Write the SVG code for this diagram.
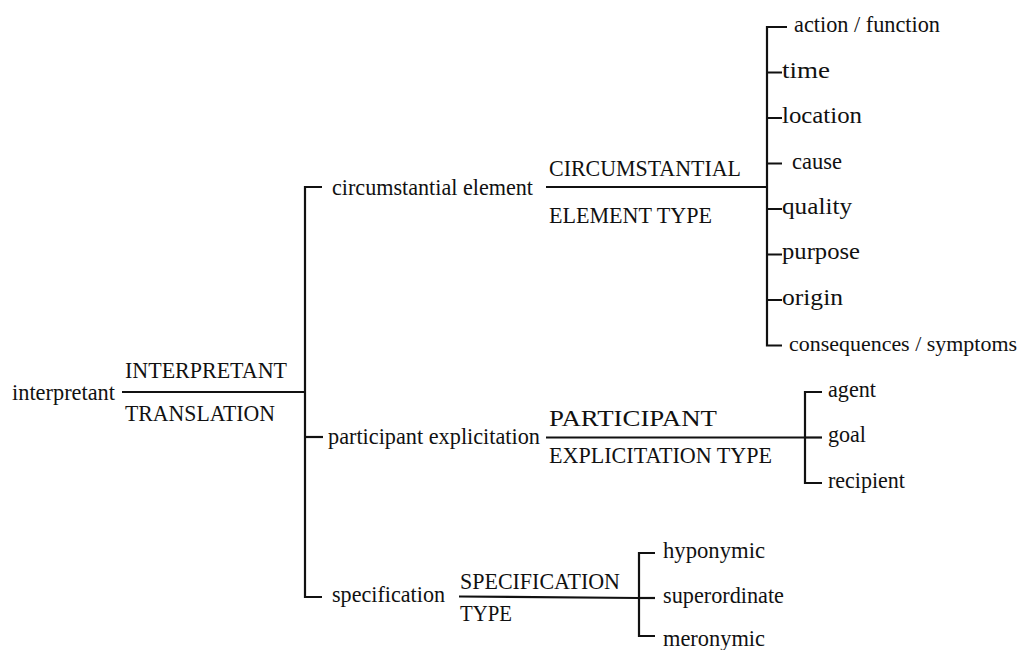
<svg xmlns="http://www.w3.org/2000/svg" width="1022" height="650" viewBox="0 0 1022 650">
<style>
text{font-family:'Liberation Serif','Times New Roman',Tinos,'DejaVu Serif',serif;font-size:23.5px;fill:#111}
.c{stroke:#111;stroke-width:2.2;fill:none}
</style>
<rect width="1022" height="650" fill="#fff"/>
<g id="connectors">
<path class="c" d="M122 392H305"/>
<path class="c" d="M322 187H305V597H322"/>
<path class="c" d="M305 437H323"/>
<path class="c" d="M546 187H767"/>
<path class="c" d="M787 27H767V345.5H782"/>
<path class="c" d="M767 72.5H782M767 118H782M767 163.5H782M767 209H782M767 254.5H782M767 300H782"/>
<path class="c" d="M546 437.5H805"/>
<path class="c" d="M822 392H805V483H822"/>
<path class="c" d="M805 437.5H822"/>
<path class="c" d="M459 596.5L639 598"/>
<path class="c" d="M655 553H639V636H655"/>
<path class="c" d="M639 598H655"/>
</g>
<g id="interpretant"><text x="12" y="400" textLength="103" lengthAdjust="spacingAndGlyphs">interpretant</text></g>
<g id="system-translation">
<text x="125" y="378" textLength="162" lengthAdjust="spacingAndGlyphs">INTERPRETANT</text>
<text x="125" y="421" textLength="150" lengthAdjust="spacingAndGlyphs">TRANSLATION</text>
</g>
<g id="circumstantial-element"><text x="332" y="195" textLength="201" lengthAdjust="spacingAndGlyphs">circumstantial element</text></g>
<g id="system-circ">
<text x="549" y="176" textLength="192" lengthAdjust="spacingAndGlyphs">CIRCUMSTANTIAL</text>
<text x="549" y="223" textLength="163" lengthAdjust="spacingAndGlyphs">ELEMENT TYPE</text>
</g>
<g id="participant-explicitation"><text x="328" y="444" textLength="212" lengthAdjust="spacingAndGlyphs">participant explicitation</text></g>
<g id="system-part">
<text x="549" y="426" textLength="168" lengthAdjust="spacingAndGlyphs">PARTICIPANT</text>
<text x="549" y="463" textLength="223" lengthAdjust="spacingAndGlyphs">EXPLICITATION TYPE</text>
</g>
<g id="specification"><text x="332" y="602" textLength="113" lengthAdjust="spacingAndGlyphs">specification</text></g>
<g id="system-spec">
<text x="460" y="589" textLength="160" lengthAdjust="spacingAndGlyphs">SPECIFICATION</text>
<text x="460" y="621" textLength="52" lengthAdjust="spacingAndGlyphs">TYPE</text>
</g>
<g id="action-function"><text x="794" y="32" textLength="146" lengthAdjust="spacingAndGlyphs">action / function</text></g>
<g id="time"><text x="782" y="78" textLength="48" lengthAdjust="spacingAndGlyphs">time</text></g>
<g id="location"><text x="782" y="123" textLength="80" lengthAdjust="spacingAndGlyphs">location</text></g>
<g id="cause"><text x="792" y="169" textLength="50" lengthAdjust="spacingAndGlyphs">cause</text></g>
<g id="quality"><text x="782" y="214" textLength="70" lengthAdjust="spacingAndGlyphs">quality</text></g>
<g id="purpose"><text x="782" y="259" textLength="78" lengthAdjust="spacingAndGlyphs">purpose</text></g>
<g id="origin"><text x="782" y="305" textLength="61" lengthAdjust="spacingAndGlyphs">origin</text></g>
<g id="consequences-symptoms"><text x="789" y="351" style="font-size:21px" textLength="228" lengthAdjust="spacingAndGlyphs">consequences / symptoms</text></g>
<g id="agent"><text x="828" y="397" textLength="48" lengthAdjust="spacingAndGlyphs">agent</text></g>
<g id="goal"><text x="828" y="442" textLength="38" lengthAdjust="spacingAndGlyphs">goal</text></g>
<g id="recipient"><text x="828" y="488" textLength="77" lengthAdjust="spacingAndGlyphs">recipient</text></g>
<g id="hyponymic"><text x="663" y="558" textLength="102" lengthAdjust="spacingAndGlyphs">hyponymic</text></g>
<g id="superordinate"><text x="663" y="603" textLength="121" lengthAdjust="spacingAndGlyphs">superordinate</text></g>
<g id="meronymic"><text x="663" y="646" textLength="102" lengthAdjust="spacingAndGlyphs">meronymic</text></g>
</svg>
